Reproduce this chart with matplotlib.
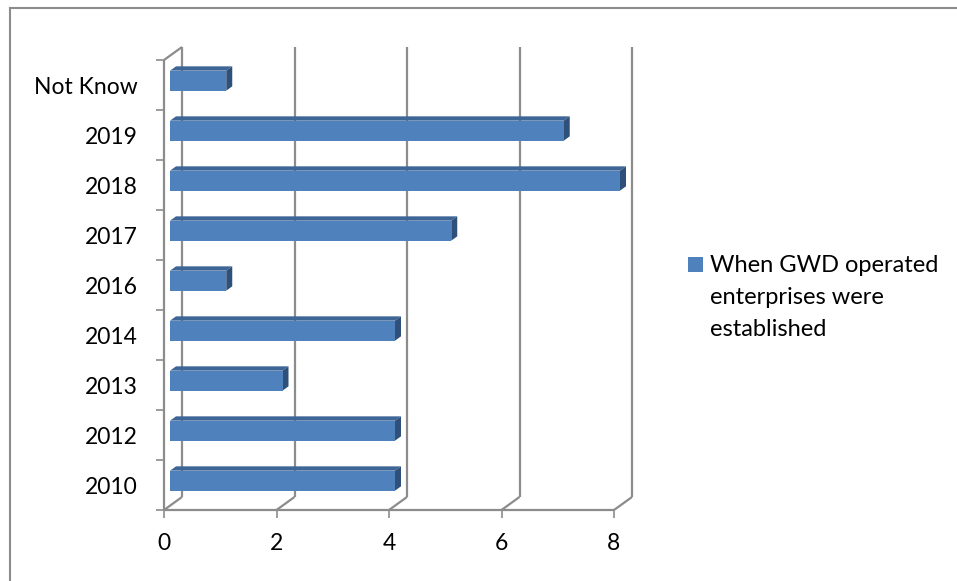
import matplotlib
matplotlib.use("Agg")
import matplotlib.pyplot as plt
from matplotlib.patches import Polygon, Rectangle
from matplotlib.lines import Line2D

plt.rcParams['font.family'] = ['Lato', 'DejaVu Sans']

categories = ['2010', '2012', '2013', '2014', '2016', '2017', '2018', '2019', 'Not Know']
values = [4, 4, 2, 4, 1, 5, 8, 7, 1]
x_ticks = [0, 2, 4, 6, 8]
legend_label = 'When GWD operated\nenterprises were\nestablished'

front_c = '#4F81BD'
top_c = '#3D6696'
side_c = '#2F5079'
grid_c = '#8C8C8C'

W, H = 957, 581
fig = plt.figure(figsize=(W / 100, H / 100), dpi=100)

# front plane of the plot: x=0 at px 164, x=8 at px 614, y from px 510 to 60
ax = fig.add_axes([164 / W, (H - 510) / H, 450 / W, 450 / H])
ax.set_xlim(0, 8)
ax.set_ylim(-0.5, len(categories) - 0.5)
for s in ax.spines.values():
    s.set_visible(False)

# depth offset of the back wall, in data units (18px right, 13px up)
dX = 18 / 56.25
dY = 13 / 50.0
top = len(categories) - 0.5
bot = -0.5

kw = dict(color=grid_c, lw=1.6, clip_on=False, solid_capstyle='butt', zorder=1)
# back wall gridlines and floor diagonals
for xv in x_ticks:
    ax.add_line(Line2D([xv + dX, xv + dX], [bot + dY, top + dY], **kw))
    ax.add_line(Line2D([xv, xv + dX], [bot, bot + dY], **kw))
# left wall top diagonal, front axis lines
ax.add_line(Line2D([0, dX], [top, top + dY], **kw))
ax.add_line(Line2D([0, 0], [bot, top], **kw))
ax.add_line(Line2D([0, 8], [bot, bot], **kw))

# bars
h = 0.4
f1x, f1y = dX / 3, dY / 3
f2x, f2y = 2 * dX / 3, 2 * dY / 3
for i, v in enumerate(values):
    x0 = f1x
    y0 = i - h / 2 + f1y
    ex = f2x - f1x
    ey = f2y - f1y
    ax.add_patch(Polygon([(x0, y0 + h), (x0 + v, y0 + h), (x0 + v + ex, y0 + h + ey),
                          (x0 + ex, y0 + h + ey)], closed=True, fc=top_c, ec='none',
                         clip_on=False, zorder=3))
    ax.add_patch(Polygon([(x0 + v, y0), (x0 + v + ex, y0 + ey), (x0 + v + ex, y0 + h + ey),
                          (x0 + v, y0 + h)], closed=True, fc=side_c, ec='none',
                         clip_on=False, zorder=3))
    ax.add_patch(Rectangle((x0, y0), v, h, fc=front_c, ec='none', clip_on=False, zorder=4))

ax.set_xticks(x_ticks)
ax.set_xticklabels([str(t) for t in x_ticks])
ax.set_yticks(range(len(categories)))
ax.set_yticklabels(categories)
ax.set_yticks([k - 0.5 for k in range(len(categories) + 1)], minor=True)
ax.tick_params(axis='y', which='major', length=0, pad=19, labelsize=16.5)
ax.tick_params(axis='y', which='minor', length=5.5, width=1.2, color=grid_c, direction='out')
ax.tick_params(axis='x', which='major', length=5.5, width=1.2, color=grid_c, direction='out',
               pad=11, labelsize=16.5)

# legend
fig.add_artist(Rectangle((688 / W, (H - 272) / H), 15 / W, 15 / H, fc=front_c, ec='none'))
fig.text(710 / W, (H - 255) / H, legend_label, fontsize=17, va='top', ha='left',
         linespacing=1.65)

# chart border (top and left edges visible)
fig.add_artist(Line2D([9.5 / W, 1], [1 - 8 / H, 1 - 8 / H], color=grid_c, lw=1.5))
fig.add_artist(Line2D([9.5 / W, 9.5 / W], [0, 1 - 8 / H], color=grid_c, lw=1.5))

fig.savefig('out.png', dpi=100)
